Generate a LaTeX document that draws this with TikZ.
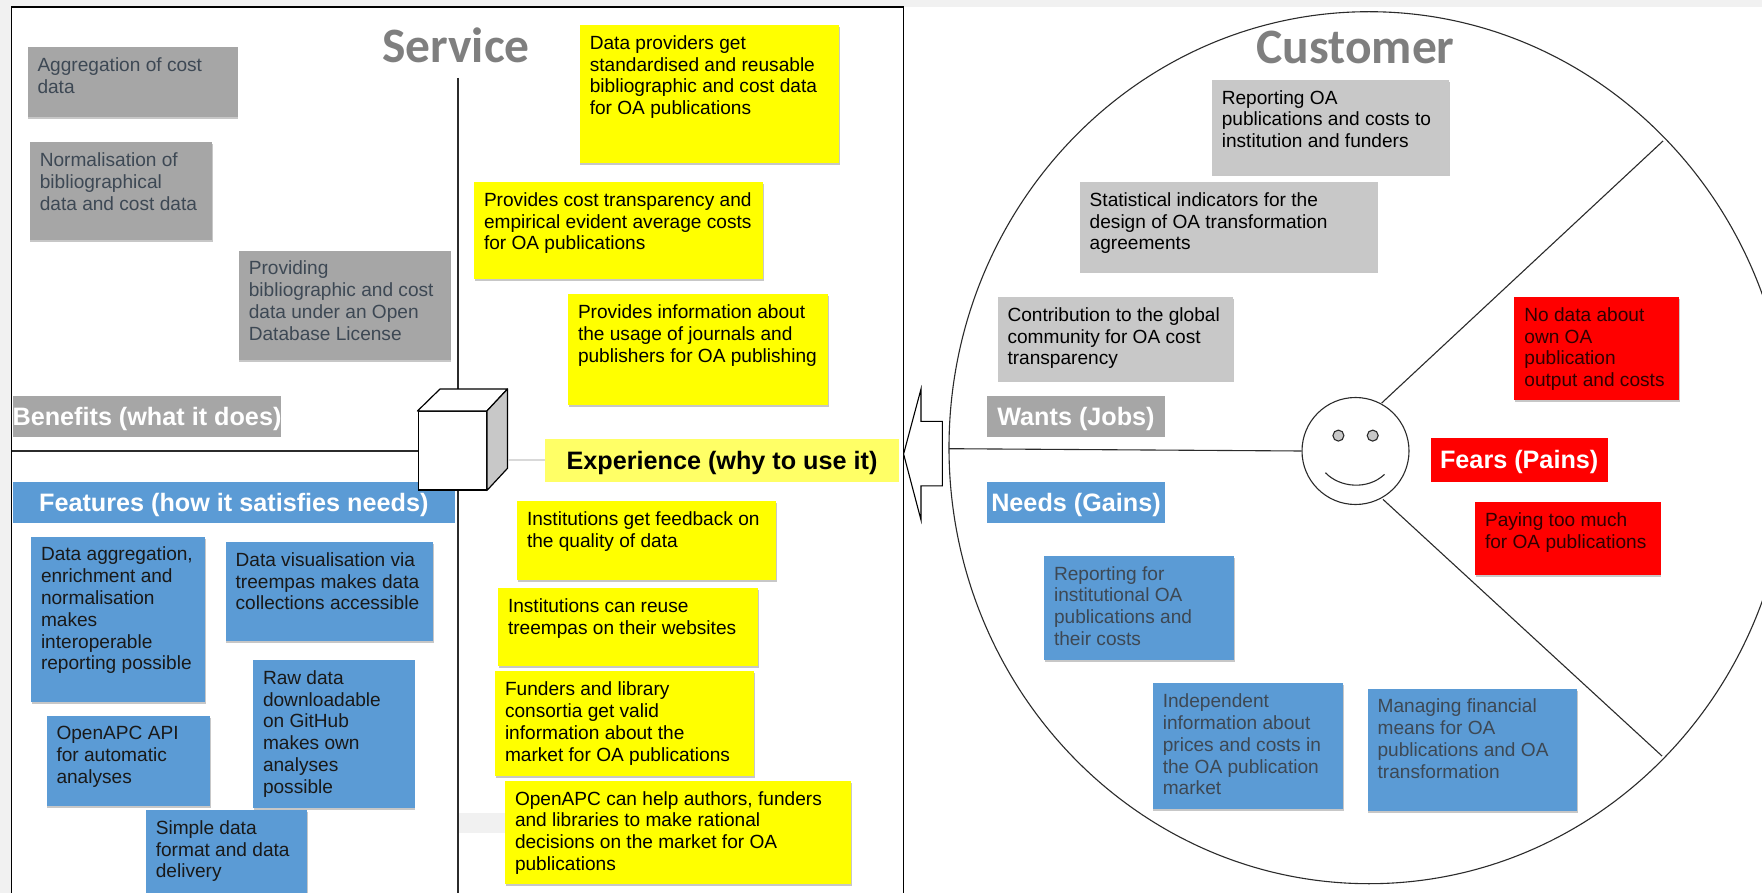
\documentclass[tikz,border=0pt]{standalone}
\usepackage{fontspec}
\setmainfont{Liberation Sans}
\newfontfamily\titlefont{Carlito}
\usetikzlibrary{shadows}
\definecolor{pagegray}{HTML}{F1F1F1}
\definecolor{cgray}{HTML}{A6A6A6}
\definecolor{clight}{HTML}{C8C8C8}
\definecolor{cblue}{HTML}{5B9BD5}
\definecolor{cyel}{HTML}{FFFF00}
\definecolor{cyelh}{HTML}{FFFF66}
\definecolor{cred}{HTML}{FF0000}
\definecolor{mutedtext}{HTML}{3D4854}
\definecolor{titlegray}{HTML}{7F7F7F}
\definecolor{linecol}{HTML}{2B2B2B}
\definecolor{redtext}{HTML}{300000}
\tikzset{
  x=1pt,y=-1pt,
  cardbox/.style={anchor=north west,inner sep=0pt,outer sep=0pt,
    drop shadow={shadow xshift=0.5pt,shadow yshift=-2pt,opacity=.22,fill=black}},
  graycard/.style={cardbox,fill=cgray,text=mutedtext},
  lightcard/.style={cardbox,fill=clight,text=black},
  bluecard/.style={cardbox,fill=cblue,text=black!90},
  mutedblue/.style={cardbox,fill=cblue,text=mutedtext},
  yelcard/.style={cardbox,fill=cyel,text=black},
  redcard/.style={cardbox,fill=cred,text=redtext},
  headbox/.style={anchor=north west,inner sep=0pt,outer sep=0pt,text height=22pt,text depth=4.2pt,font=\fontsize{25.2}{28}\selectfont\bfseries},
  bigtitle/.style={text=titlegray,font=\titlefont\fontsize{49.5}{52}\selectfont\bfseries,inner sep=0pt},
  rule/.style={draw=linecol,line width=1.1pt},
}
% name, x, y, w, h, style, text
\newcommand{\card}[7]{%
  \node[#6] (#1) at (#2,#3) {\parbox[c][#5pt][t]{#4pt}{%
    \fontsize{19.1}{21.8}\selectfont\raggedright\leftskip=10pt\vspace{10.5pt}#7}};}
\newcommand{\headbar}[7]{%
  \node[headbox,fill=#6,minimum width=#4pt,minimum height=#5pt] (#1) at (#2,#3) {#7};}
\begin{document}
\begin{tikzpicture}
\clip (0,0) rectangle (1762,893);
\fill[pagegray] (0,0) rectangle (1762,893);
\fill[white] (11.5,7) rectangle (1762,893);
% frame
\coordinate (frameTL) at (11.5,7);
\coordinate (frameTR) at (903.6,7);
\coordinate (frameBL) at (11.5,900);
\coordinate (frameBR) at (903.6,900);
\draw[draw=black,line width=1.3pt] (frameBL) -- (frameTL) -- (frameTR) -- (frameBR);
\fill[pagegray] (458,813) rectangle (505,833);
% customer ellipse and smiley
\draw[rule] (1369,447.7) ellipse [x radius=420,y radius=436];
\node[draw=linecol,line width=1.1pt,circle,fill=white,minimum size=107pt,inner sep=0pt] (face) at (1355.5,451) {};
\node[draw=linecol,line width=1.1pt,circle,fill=clight,minimum size=11pt,inner sep=0pt] (eyeL) at (1338.4,435.6) {};
\node[draw=linecol,line width=1.1pt,circle,fill=clight,minimum size=11pt,inner sep=0pt] (eyeR) at (1372.7,435.6) {};
\coordinate (smileL) at (1325.4,472.7);
\coordinate (smileR) at (1384.5,474.4);
\draw[rule] (smileL) .. controls (1340,488) and (1368,490) .. (smileR);
\coordinate (ringL) at (949,448.7);
\coordinate (ringU) at (1663,141);
\coordinate (ringD) at (1662,756);
\draw[rule] (ringL) -- (face.west);
\coordinate (faceU) at (1381.7,403);
\coordinate (faceD) at (1383,499.4);
\draw[rule] (faceU) -- (ringU);
\draw[rule] (faceD) -- (ringD);
% block arrow
\draw[draw=black,line width=1.1pt,fill=white] (903.6,454) -- (921,389) -- (921,421.4) -- (942.4,421.4) -- (942.4,485.8) -- (921,485.8) -- (921,520) -- cycle;
% titles
\node[bigtitle] (service) at (456,45.5) {Service};
\node[bigtitle] (customer) at (1355.5,47) {Customer};
% service axes
\coordinate (axisTop) at (458,78);
\coordinate (axisBot) at (458,900);
\coordinate (axisLeft) at (11.5,451);
\draw[rule] (axisTop) -- (axisBot);
% header bars
\headbar{benefits}{12.6}{395.8}{265.8}{41.6}{cgray}{\textcolor{white}{Benefits (what it does)}}
\headbar{features}{12.6}{482.3}{442.4}{40.5}{cblue}{\textcolor{white}{Features (how it satisfies needs)}}
\headbar{experience}{545}{438.5}{354}{43.3}{cyelh}{\textcolor{black}{Experience (why to use it)}}
\headbar{wants}{987.4}{395.8}{177.2}{41.6}{cgray}{\textcolor{white}{Wants (Jobs)}}
\headbar{needs}{987.4}{482.3}{177.2}{40.5}{cblue}{\textcolor{white}{Needs (Gains)}}
\headbar{fears}{1430.6}{438}{177.2}{43.8}{cred}{\textcolor{white}{Fears (Pains)}}
% cube
\node[draw=black,line width=1.2pt,fill=white,anchor=north west,minimum width=68.2pt,minimum height=78.3pt,inner sep=0pt] (cube) at (417.5,411) {};
\draw[draw=black,line width=1.2pt,fill=white,line join=round] (cube.north west) -- (440,389) -- (507.5,389) -- (cube.north east) -- cycle;
\draw[draw=black,line width=1.2pt,fill=clight,line join=round] (cube.north east) -- (507.5,389) -- (507.5,468.3) -- (cube.south east) -- cycle;
\draw[rule] (axisLeft) -- (cube.west |- axisLeft);
\coordinate (cubeSide) at (508,460);
\draw[draw=black!15,line width=1.2pt] (cubeSide) -- (experience.west |- cubeSide);
% gray benefits
\card{b1}{27.5}{47.3}{210}{70}{graycard}{Aggregation of cost\\data}
\card{b2}{29.8}{142.4}{182.2}{97.4}{graycard}{Normalisation of\\bibliographical\\data and cost data}
\card{b3}{238.8}{250.6}{211.8}{109.4}{graycard}{Providing\\bibliographic and cost\\data under an Open\\Database License}
% yellow experience
\card{y1}{579.8}{25}{259.2}{138}{yelcard}{Data providers get\\standardised and reusable\\bibliographic and cost data\\for OA publications}
\card{y2}{474}{182}{289}{97}{yelcard}{Provides cost transparency and\\empirical evident average costs\\for OA publications}
\card{y3}{568}{294.4}{260}{111}{yelcard}{Provides information about\\the usage of journals and\\publishers for OA publishing}
\card{y4}{517}{501}{259}{79}{yelcard}{Institutions get feedback on\\the quality of data}
\card{y5}{498}{588}{260}{78}{yelcard}{Institutions can reuse\\treempas on their websites}
\card{y6}{495}{671.4}{259}{104.2}{yelcard}{Funders and library\\consortia get valid\\information about the\\market for OA publications}
\card{y7}{505}{780.8}{346}{103.6}{yelcard}{OpenAPC can help authors, funders\\and libraries to make rational\\decisions on the market for OA\\publications}
% blue features
\card{f1}{31}{536.5}{174}{165.5}{bluecard}{Data aggregation,\\enrichment and\\normalisation\\makes\\interoperable\\reporting possible}
\card{f2}{225.6}{542}{207.8}{99}{bluecard}{Data visualisation via\\treempas makes data\\collections accessible}
\card{f3}{253}{660}{161.5}{148}{bluecard}{Raw data\\downloadable\\on GitHub\\makes own\\analyses\\possible}
\card{f4}{46.5}{716}{163.5}{90.4}{bluecard}{OpenAPC API\\for automatic\\analyses}
\card{f5}{145.8}{810}{161.2}{90}{bluecard}{Simple data\\format and data\\delivery}
% customer cards
\card{w1}{1211.8}{79.7}{237.2}{94}{lightcard}{Reporting OA\\publications and costs to\\institution and funders}
\card{w2}{1079.7}{182}{298}{89}{lightcard}{Statistical indicators for the\\design of OA transformation\\agreements}
\card{w3}{997.5}{297}{235.5}{83.4}{lightcard}{Contribution to the global\\community for OA cost\\transparency}
\card{n1}{1044}{555.8}{190}{103.7}{mutedblue}{Reporting for\\institutional OA\\publications and\\their costs}
\card{n2}{1152.8}{683.4}{190.6}{125.6}{mutedblue}{Independent\\information about\\prices and costs in\\the OA publication\\market}
\card{n3}{1367.6}{688.5}{209.8}{122.5}{mutedblue}{Managing financial\\means for OA\\publications and OA\\transformation}
\card{p1}{1514.4}{297}{164.6}{103}{redcard}{No data about\\own OA\\publication\\output and costs}
\card{p2}{1475}{502}{185.6}{73}{redcard}{Paying too much\\for OA publications}
\end{tikzpicture}
\end{document}
